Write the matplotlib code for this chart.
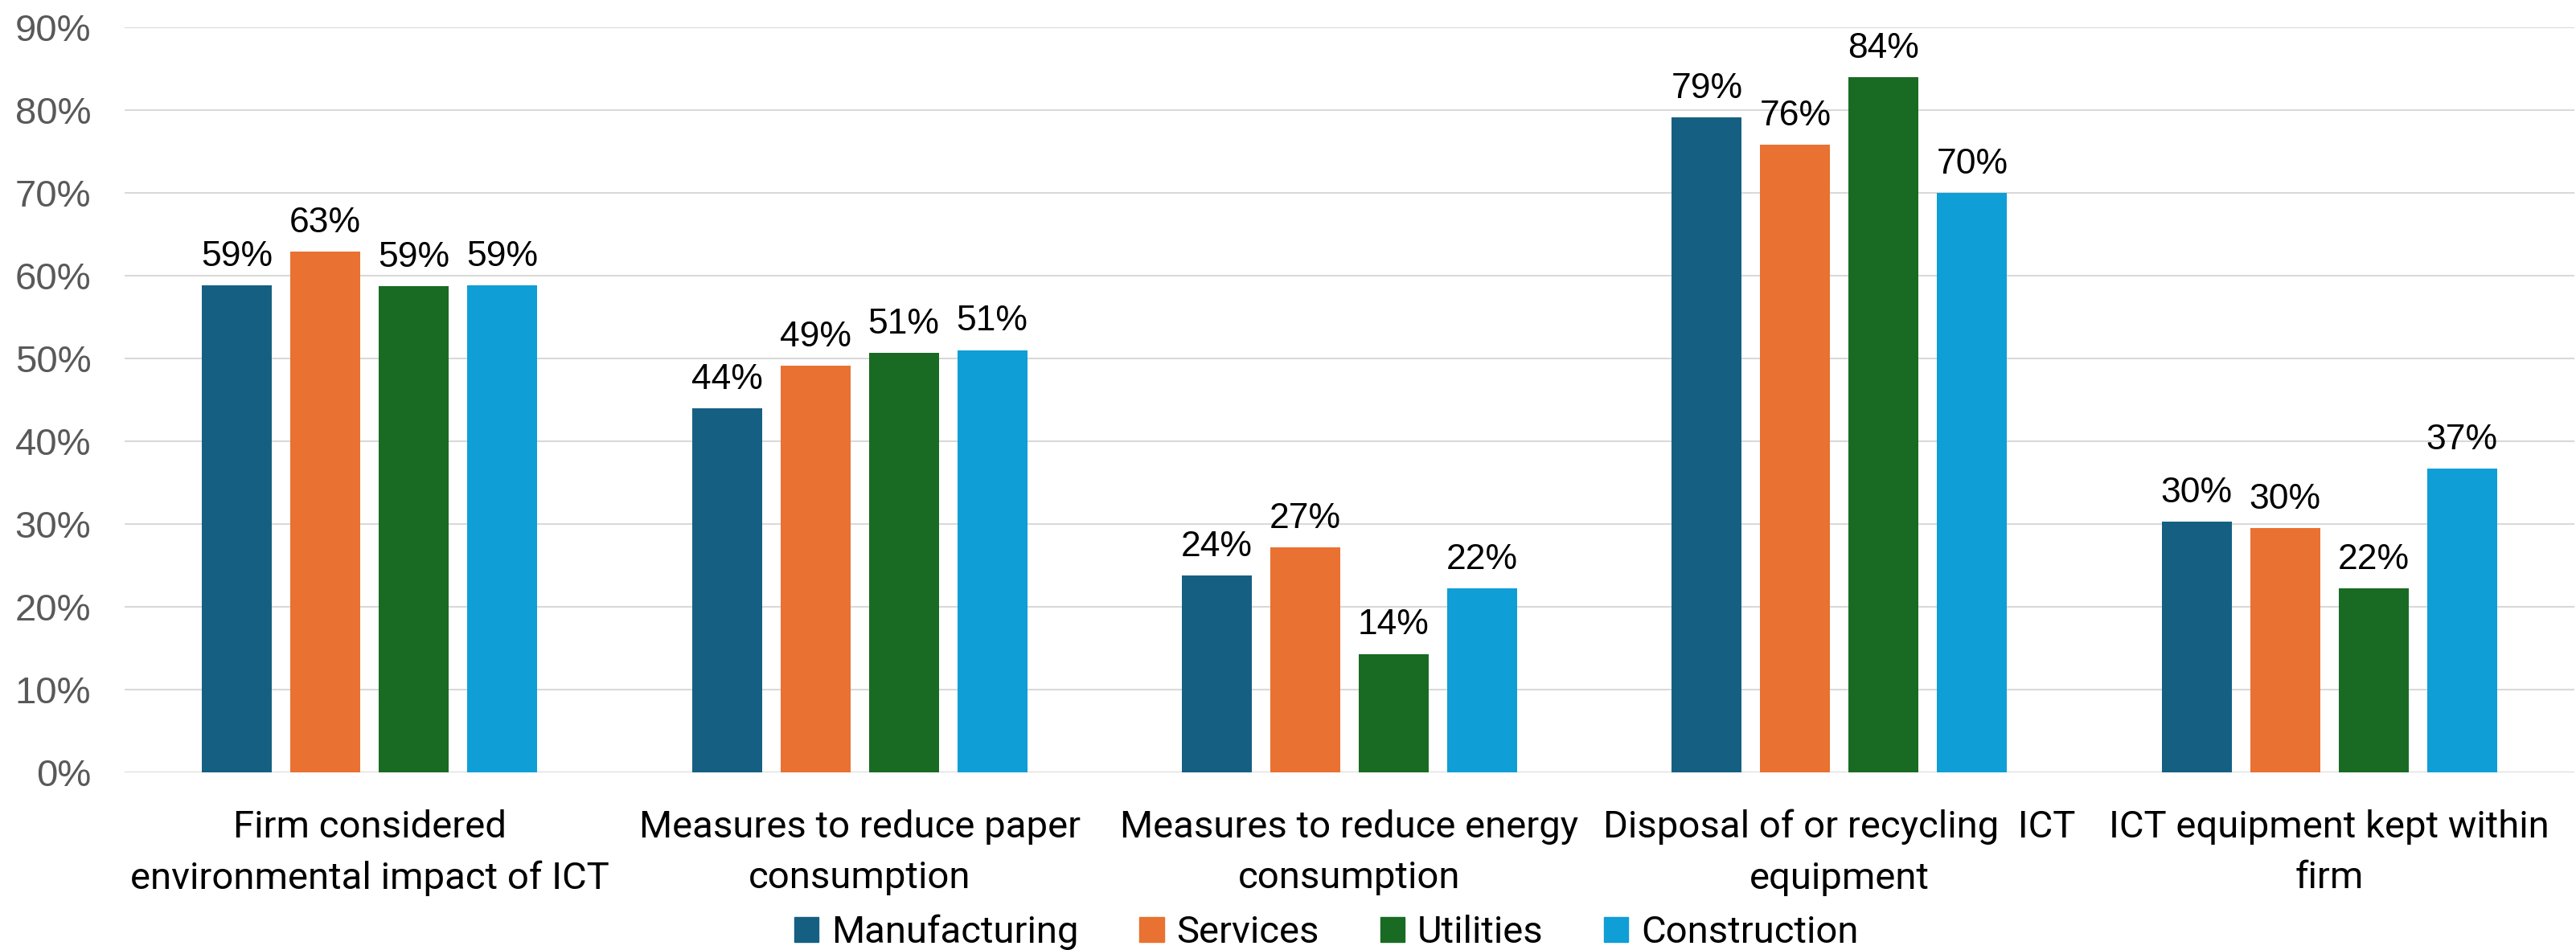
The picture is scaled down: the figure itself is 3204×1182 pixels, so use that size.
import numpy as np
import matplotlib
matplotlib.use("Agg")
import matplotlib.pyplot as plt
from matplotlib.patches import Patch

# Data
categories = [
    "Firm considered\nenvironmental impact of ICT",
    "Measures to reduce paper\nconsumption",
    "Measures to reduce energy\nconsumption",
    "Disposal of or recycling  ICT\nequipment",
    "ICT equipment kept within\nfirm",
]
series = ["Manufacturing", "Services", "Utilities", "Construction"]
manufacturing = [0.588, 0.440, 0.238, 0.791, 0.303]
services = [0.629, 0.491, 0.272, 0.758, 0.295]
utilities = [0.587, 0.507, 0.143, 0.840, 0.222]
construction = [0.588, 0.510, 0.222, 0.700, 0.367]
colors = ["#156082", "#E97132", "#196B24", "#0F9ED5"]
yticks = [0, 0.1, 0.2, 0.3, 0.4, 0.5, 0.6, 0.7, 0.8, 0.9]

narrow = ["Roboto", "DejaVu Sans"]
plain = ["Liberation Sans", "DejaVu Sans"]

fig = plt.figure(figsize=(32.04, 11.82), dpi=100)
ax = fig.add_axes([155 / 3204, 1 - 961 / 1182, 3047 / 3204, 927 / 1182])

x = np.arange(len(categories))
step = 0.1805
width = 0.1428
for i, (name, vals) in enumerate(zip(series, [manufacturing, services, utilities, construction])):
    bars = ax.bar(x + (i - 1.5) * step, vals, width, color=colors[i], label=name, zorder=3)
    ax.bar_label(bars, labels=[f"{v:.0%}" for v in vals], padding=11,
                 fontsize=32, family=plain, color="black")

# Axes styling
ax.set_xlim(-0.5, len(categories) - 0.5)
ax.set_ylim(0, 0.9)
ax.set_yticks(yticks)
ax.set_yticklabels([f"{int(round(t * 100))}%" for t in yticks], family=plain,
                   fontsize=34, color="#595959")
ax.set_xticks(x)
ax.set_xticklabels(categories, family=narrow, fontsize=34, color="black", linespacing=1.55)
ax.tick_params(axis="y", length=0, pad=30)
ax.tick_params(axis="x", length=0, pad=33)
ax.grid(axis="y", color="#D9D9D9", linewidth=1.5, zorder=0)
ax.set_axisbelow(True)
for s in ax.spines.values():
    s.set_visible(False)

# Legend
handles = [Patch(color=c, label=s) for c, s in zip(colors, series)]
fig.legend(handles=handles, loc="center", bbox_to_anchor=(1650 / 3204, 1 - 1160 / 1182),
           ncol=4, frameon=False, prop={"family": narrow, "size": 34},
           handlelength=0.64, handleheight=0.64, handletextpad=0.34,
           columnspacing=1.6, borderpad=0)

fig.savefig("out.png", dpi=100)
